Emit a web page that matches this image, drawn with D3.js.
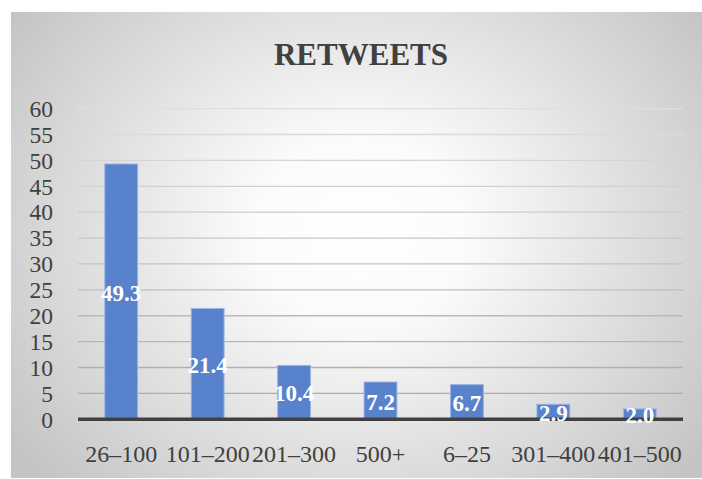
<!DOCTYPE html>
<html>
<head>
<meta charset="utf-8">
<script src="https://cdn.jsdelivr.net/npm/d3@7"></script>
<style>
  html, body { margin: 0; padding: 0; background: #ffffff; }
  svg { display: block; }
</style>
</head>
<body>
<svg id="chart" width="702" height="479"></svg>
<script>
const categories = ["26–100", "101–200", "201–300", "500+", "6–25", "301–400", "401–500"];
const values = [49.3, 21.4, 10.4, 7.2, 6.7, 2.9, 2.0];
const yTicks = [0, 5, 10, 15, 20, 25, 30, 35, 40, 45, 50, 55, 60];
const title = "RETWEETS";

const W = 702, H = 479;
const svg = d3.select("#chart");
const fontFamily = "'Liberation Serif', 'DejaVu Serif', serif";

// background with radial gradient
const defs = svg.append("defs");
const rg = defs.append("radialGradient")
  .attr("id", "bg")
  .attr("gradientUnits", "userSpaceOnUse")
  .attr("cx", 360).attr("cy", 230).attr("r", 430)
  .attr("gradientTransform", "translate(360,230) scale(1,0.85) translate(-360,-230)");
rg.append("stop").attr("offset", "0%").attr("stop-color", "#ffffff");
rg.append("stop").attr("offset", "25%").attr("stop-color", "#fbfbfb");
rg.append("stop").attr("offset", "100%").attr("stop-color", "#c4c4c4");

svg.append("rect")
  .attr("x", 11).attr("y", 12).attr("width", W - 11).attr("height", 466)
  .attr("fill", "url(#bg)");

const margin = { left: 78, right: 702 - 683, top: 108.6, bottom: 479 - 419.3 };
const x = d3.scaleBand()
  .domain(categories)
  .range([margin.left, W - margin.right])
  .paddingInner(0.62)
  .paddingOuter(0.31);
const y = d3.scaleLinear()
  .domain([0, 60])
  .range([H - margin.bottom, margin.top]);

// gridlines
const gridColor = d3.scaleLinear().domain([60, 0]).range(["#dedede", "#a8a8a8"]);
svg.append("g")
  .selectAll("line")
  .data(yTicks.filter(d => d > 0))
  .join("line")
  .attr("x1", margin.left).attr("x2", W - margin.right)
  .attr("y1", d => y(d)).attr("y2", d => y(d))
  .attr("stroke", d => gridColor(d))
  .attr("stroke-width", 1.3);

// y axis labels
const yAxis = d3.axisLeft(y).tickValues(yTicks).tickSize(0).tickPadding(0);
const yg = svg.append("g")
  .attr("transform", `translate(${53},0)`)
  .call(yAxis);
yg.select(".domain").remove();
yg.selectAll("text")
  .attr("font-family", fontFamily)
  .attr("font-size", 23.5)
  .attr("fill", "#404040")
  .attr("dy", "0.33em");

// bars
svg.append("g")
  .selectAll("rect")
  .data(values)
  .join("rect")
  .attr("x", (d, i) => x(categories[i]))
  .attr("width", x.bandwidth())
  .attr("y", d => y(d))
  .attr("height", d => y(0) - y(d))
  .attr("fill", "#5882cc")
  .attr("stroke", "#9bb4e2")
  .attr("stroke-width", 1);

// x axis line
svg.append("line")
  .attr("x1", margin.left).attr("x2", W - margin.right)
  .attr("y1", y(0)).attr("y2", y(0))
  .attr("stroke", "#404040")
  .attr("stroke-width", 3.5);

// x axis labels
const xAxis = d3.axisBottom(x).tickSize(0).tickPadding(0);
const xg = svg.append("g")
  .attr("transform", `translate(0,${462})`)
  .call(xAxis);
xg.select(".domain").remove();
xg.selectAll("text")
  .attr("font-family", fontFamily)
  .attr("font-size", 24)
  .attr("fill", "#404040")
  .attr("dy", 0)
  .attr("y", 0);

// value labels
svg.append("g")
  .selectAll("text")
  .data(values)
  .join("text")
  .attr("x", (d, i) => x(categories[i]) + x.bandwidth() / 2)
  .attr("y", d => (y(d) + y(0)) / 2 + 9)
  .attr("text-anchor", "middle")
  .attr("font-family", fontFamily)
  .attr("font-size", 23)
  .attr("font-weight", "bold")
  .attr("fill", "#ffffff")
  .text(d => d.toFixed(1));

// title
svg.append("text")
  .attr("x", 361).attr("y", 65)
  .attr("text-anchor", "middle")
  .attr("font-family", fontFamily)
  .attr("font-size", 31)
  .attr("font-weight", "bold")
  .attr("fill", "#404040")
  .text(title);
</script>
</body>
</html>
